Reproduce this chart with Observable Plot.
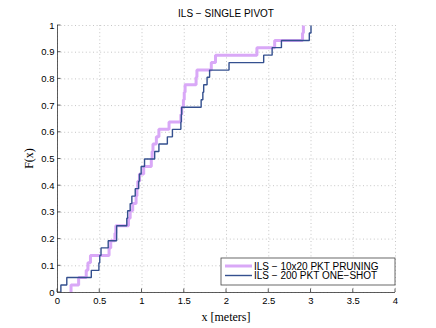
<!DOCTYPE html>
<html>
<head>
<meta charset="utf-8">
<script src="https://cdn.jsdelivr.net/npm/d3@7"></script>
<script src="https://cdn.jsdelivr.net/npm/@observablehq/plot@0.6"></script>
<style>
  html, body { margin: 0; padding: 0; background: #fff; }
  svg { display: block; }
</style>
</head>
<body>
<div id="chart"></div>
<script>
// ---- data ----
const xTicks = [0, 0.5, 1, 1.5, 2, 2.5, 3, 3.5, 4];
const xTickLabels = ["0", "0.5", "1", "1.5", "2", "2.5", "3", "3.5", "4"];
const yTicks = [0, 0.1, 0.2, 0.3, 0.4, 0.5, 0.6, 0.7, 0.8, 0.9, 1];
const yTickLabels = ["0", "0.1", "0.2", "0.3", "0.4", "0.5", "0.6", "0.7", "0.8", "0.9", "1"];

const seriesNames = ["ILS \u2212 10x20 PKT PRUNING", "ILS \u2212 200 PKT ONE\u2212SHOT"];

// ECDF levels (step heights)
const levels = [0, 0.028, 0.056, 0.083, 0.111, 0.139, 0.167, 0.194, 0.222, 0.25, 0.278, 0.306, 0.333,
  0.361, 0.389, 0.417, 0.444, 0.472, 0.5, 0.528, 0.556, 0.583, 0.611, 0.639, 0.667,
  0.694, 0.722, 0.75, 0.778, 0.806, 0.833, 0.861, 0.889, 0.917, 0.944, 0.972, 1];

// x positions of each step (meters)
const pruningX = [0.16, 0.16, 0.25, 0.34, 0.36, 0.39, 0.61, 0.63, 0.68, 0.69, 0.84, 0.86, 0.89,
  0.93, 0.94, 0.95, 0.97, 1.02, 1.11, 1.12, 1.13, 1.17, 1.20, 1.32, 1.46, 1.47,
  1.49, 1.50, 1.51, 1.64, 1.65, 1.82, 1.87, 2.36, 2.57, 2.90, 2.91];
const oneShotX = [0.04, 0.04, 0.11, 0.40, 0.49, 0.50, 0.515, 0.60, 0.70, 0.70, 0.82, 0.83, 0.86,
  0.88, 0.92, 0.96, 0.97, 0.99, 1.03, 1.15, 1.20, 1.30, 1.36, 1.46, 1.465, 1.47,
  1.70, 1.72, 1.73, 1.77, 1.80, 2.03, 2.44, 2.54, 2.65, 2.98, 3.00];

const colors = ["#d9a8f7", "#34508f"];
const widths = [3, 1.4];

// ---- table for Plot ----
const pruning = pruningX.map((x, i) => ({x, y: levels[i], s: seriesNames[0]}));
const oneShot = oneShotX.map((x, i) => ({x, y: levels[i], s: seriesNames[1]}));

const gridStyle = {stroke: "#b8b8b8", strokeWidth: 0.8, strokeDasharray: "1,2.6", strokeOpacity: 1};

const chart = Plot.plot({
  width: 436,
  height: 328,
  marginLeft: 57,
  marginRight: 41,
  marginTop: 25,
  marginBottom: 36,
  style: {fontFamily: "'Liberation Sans', Arial, sans-serif", fontSize: "9.5px", background: "#fff", color: "#000"},
  x: {domain: [0, 4], axis: null},
  y: {domain: [0, 1], axis: null},
  marks: [
    Plot.gridX(xTicks, {...gridStyle}),
    Plot.gridY(yTicks, {...gridStyle}),
    Plot.line(pruning, {x: "x", y: "y", curve: "step-after", stroke: colors[0], strokeWidth: widths[0], strokeLinejoin: "miter", strokeLinecap: "butt"}),
    Plot.line(oneShot, {x: "x", y: "y", curve: "step-after", stroke: colors[1], strokeWidth: widths[1], strokeLinejoin: "miter", strokeLinecap: "butt"}),
    Plot.axisX(xTicks, {tickFormat: (d, i) => xTickLabels[i], tickSize: 0, tickPadding: 5, fontSize: 9.5, label: null}),
    Plot.axisY(yTicks, {tickFormat: (d, i) => yTickLabels[i], tickSize: 0, tickPadding: 3, fontSize: 9.5, label: null}),
    Plot.ruleX([0], {stroke: "#333", strokeWidth: 0.8}),
    Plot.ruleY([0], {stroke: "#333", strokeWidth: 0.8})
  ]
});

document.getElementById("chart").appendChild(chart);

// ---- inward ticks, titles, legend (layout only) ----
const sx = chart.scale("x"), sy = chart.scale("y");
const svg = d3.select(chart);
const x0 = sx.apply(0), x1 = sx.apply(4), y0 = sy.apply(0), y1 = sy.apply(1);
const g = svg.append("g");

xTicks.forEach(v => {
  g.append("line").attr("x1", sx.apply(v)).attr("x2", sx.apply(v))
    .attr("y1", y0).attr("y2", y0 - 3.5).attr("stroke", "#333").attr("stroke-width", 0.8);
});
yTicks.forEach(v => {
  g.append("line").attr("x1", x0).attr("x2", x0 + 3.5)
    .attr("y1", sy.apply(v)).attr("y2", sy.apply(v)).attr("stroke", "#333").attr("stroke-width", 0.8);
});

g.append("text").text("ILS \u2212 SINGLE PIVOT")
  .attr("x", (x0 + x1) / 2).attr("y", 17).attr("text-anchor", "middle")
  .attr("font-family", "'Liberation Sans', Arial, sans-serif").attr("font-size", 10);

g.append("text").text("x [meters]")
  .attr("x", (x0 + x1) / 2).attr("y", 321).attr("text-anchor", "middle")
  .attr("font-family", "'Liberation Serif', 'Times New Roman', serif").attr("font-size", 12);

g.append("text").text("F(x)")
  .attr("transform", `translate(33, ${(y0 + y1) / 2}) rotate(-90)`).attr("text-anchor", "middle")
  .attr("font-family", "'Liberation Serif', 'Times New Roman', serif").attr("font-size", 12);

// legend
const lg = svg.append("g");
const lx = 221, ly = 258, lw = 174, lh = 27;
lg.append("rect").attr("x", lx).attr("y", ly).attr("width", lw).attr("height", lh)
  .attr("fill", "#fff").attr("stroke", "#444").attr("stroke-width", 0.8);
seriesNames.forEach((name, i) => {
  const yy = ly + 8 + i * 9.5;
  lg.append("line").attr("x1", lx + 4).attr("x2", lx + 31).attr("y1", yy).attr("y2", yy)
    .attr("stroke", colors[i]).attr("stroke-width", widths[i]);
  lg.append("text").text(name).attr("x", lx + 33).attr("y", yy + 3.5)
    .attr("text-anchor", "start")
    .attr("font-family", "'Liberation Sans', Arial, sans-serif").attr("font-size", 10);
});
</script>
</body>
</html>
